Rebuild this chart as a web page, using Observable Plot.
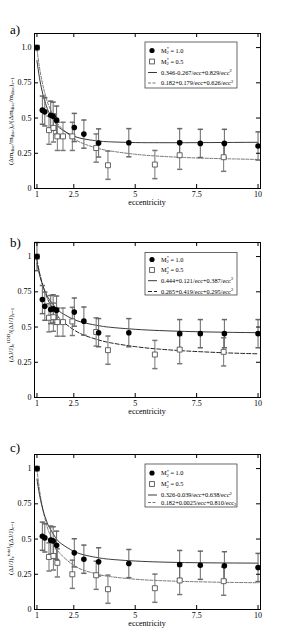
<!DOCTYPE html>
<html><head><meta charset="utf-8">
<script src="https://cdn.jsdelivr.net/npm/d3@7"></script>
<script src="https://cdn.jsdelivr.net/npm/@observablehq/plot@0.6"></script>
<style>body{margin:0;background:#fff;width:288px;overflow:hidden} #c svg{display:block}</style>
</head><body><div id="c"></div>
<script>
// ---- shared ----
const ticksX = [1, 2.5, 5, 7.5, 10];
const ticksY = [0, 0.25, 0.5, 0.75, 1];
const eccM1 = [1, 1.22, 1.32, 1.56, 1.66, 1.8, 2.52, 2.91, 3.51, 4.74, 6.81, 7.65, 8.63, 10];
const eccM05 = [1, 1.49, 1.67, 1.83, 2.06, 2.44, 3.41, 3.89, 5.8, 6.81, 8.6];
const eccM05c = [1, 1.49, 1.67, 1.83, 2.44, 3.41, 3.89, 5.8, 6.81, 8.6];
const fitEcc = [1, 1.1, 1.2, 1.3, 1.4, 1.5, 1.75, 2, 2.5, 3, 3.5, 4, 5, 6, 7, 8, 9, 10];

// ---- panel a ----
const aM1 = [1.0, 0.556, 0.544, 0.52, 0.513, 0.485, 0.433, 0.386, 0.323, 0.325, 0.325, 0.32, 0.32, 0.302];
const aM1err = [0, 0.1, 0.1, 0.1, 0.1, 0.1, 0.1, 0.1, 0.1, 0.1, 0.1, 0.1, 0.1, 0.1];
const aM05 = [1.0, 0.414, 0.43, 0.37, 0.37, 0.37, 0.287, 0.165, 0.17, 0.236, 0.222];
const aM05err = [0, 0.1, 0.1, 0.1, 0.1, 0.1, 0.1, 0.1, 0.1, 0.1, 0.1];
const aFitM1 = [0.908, 0.788, 0.699, 0.631, 0.578, 0.536, 0.464, 0.420, 0.372, 0.349, 0.337, 0.331, 0.326, 0.325, 0.325, 0.326, 0.327, 0.328];
const aFitM05 = [0.987, 0.862, 0.766, 0.690, 0.629, 0.580, 0.489, 0.428, 0.354, 0.311, 0.284, 0.266, 0.243, 0.229, 0.220, 0.214, 0.210, 0.206];
const aLegend = ["0.346-0.267/ecc+0.829/ecc", "0.182+0.179/ecc+0.626/ecc"];

// ---- panel b ----
const bM1 = [1.0, 0.695, 0.648, 0.624, 0.629, 0.62, 0.606, 0.542, 0.46, 0.46, 0.453, 0.453, 0.453, 0.453];
const bM1err = [0.1, 0.1, 0.1, 0.1, 0.1, 0.1, 0.1, 0.1, 0.1, 0.1, 0.1, 0.1, 0.1, 0.1];
const bM05 = [1.0, 0.566, 0.57, 0.535, 0.535, 0.54, 0.465, 0.336, 0.305, 0.34, 0.324];
const bM05err = [0, 0.1, 0.1, 0.1, 0.1, 0.1, 0.1, 0.1, 0.1, 0.1, 0.1];
const bFitM1 = [0.952, 0.874, 0.814, 0.766, 0.728, 0.697, 0.640, 0.601, 0.554, 0.527, 0.510, 0.498, 0.484, 0.475, 0.469, 0.465, 0.462, 0.460];
const bFitM05 = [0.979, 0.890, 0.819, 0.762, 0.715, 0.675, 0.601, 0.548, 0.480, 0.437, 0.409, 0.388, 0.361, 0.343, 0.331, 0.322, 0.315, 0.310];
const bLegend = ["0.444+0.121/ecc+0.387/ecc", "0.265+0.419/ecc+0.295/ecc"];

// ---- panel c ----
const cM1 = [1.0, 0.52, 0.508, 0.492, 0.487, 0.456, 0.402, 0.357, 0.338, 0.326, 0.319, 0.314, 0.31, 0.298];
const cM1err = [0, 0.1, 0.1, 0.1, 0.1, 0.1, 0.1, 0.1, 0.1, 0.1, 0.1, 0.1, 0.1, 0.1];
const cM05 = [1.0, 0.373, 0.38, 0.331, 0.25, 0.243, 0.144, 0.151, 0.206, 0.201];
const cM05err = [0, 0.1, 0.1, 0.1, 0.1, 0.1, 0.1, 0.1, 0.1, 0.1];
const cFitM1 = [0.925, 0.818, 0.737, 0.674, 0.624, 0.584, 0.512, 0.466, 0.413, 0.384, 0.367, 0.356, 0.344, 0.337, 0.333, 0.331, 0.330, 0.329];
const cFitM05 = [0.995, 0.854, 0.747, 0.663, 0.597, 0.544, 0.448, 0.386, 0.313, 0.273, 0.249, 0.233, 0.215, 0.205, 0.199, 0.195, 0.192, 0.190];
const cLegend = ["0.326-0.039/ecc+0.638/ecc", "0.182+0.0025/ecc+0.810/ecc"];

const zip = (xs, ys, es) => xs.map((x, i) => ({x, y: ys[i], e: es ? es[i] : 0}));
const capSymbol = {draw(ctx, size) { const w = Math.sqrt(size / Math.PI); ctx.moveTo(-w, 0); ctx.lineTo(w, 0); }};

const W = 288, ML = 34, MR = 28, INNER_H = 155;
const FONT = "Liberation Serif, Times New Roman, serif";

function panel(cfg) {
  const m1 = zip(eccM1, cfg.m1, cfg.m1err);
  const m05 = zip(cfg.x05, cfg.m05, cfg.m05err);
  const f1 = zip(fitEcc, cfg.fit1);
  const f05 = zip(fitEcc, cfg.fit05);
  const H = cfg.mt + INNER_H + cfg.mb;
  const innerW = W - ML - MR;
  const bars = (d) => d.filter(p => p.e > 0);
  const svg = Plot.plot({
    width: W, height: H,
    marginLeft: ML, marginRight: MR, marginTop: cfg.mt, marginBottom: cfg.mb,
    style: {fontFamily: FONT, fontSize: "8px", color: "#000", background: "#fff"},
    x: {domain: [0.9, 10.1]},
    y: {domain: [0, 1.1]},
    marks: [
      Plot.line(f05, {x: "x", y: "y", curve: "natural", stroke: cfg.dashColor, strokeWidth: 1, strokeDasharray: cfg.dash}),
      Plot.line(f1, {x: "x", y: "y", curve: "natural", stroke: "#222", strokeWidth: 0.9}),
      Plot.ruleX(bars(m05), {x: "x", y1: d => d.y - d.e, y2: d => Math.min(1.1, d.y + d.e), stroke: "#777", strokeWidth: 1}),
      Plot.dot(bars(m05), {x: "x", y: d => d.y - d.e, symbol: capSymbol, r: 2.6, stroke: "#777", fill: "none"}),
      Plot.dot(bars(m05), {x: "x", y: d => d.y + d.e, symbol: capSymbol, r: 2.6, stroke: "#777", fill: "none"}),
      Plot.ruleX(bars(m1), {x: "x", y1: d => d.y - d.e, y2: d => Math.min(1.1, d.y + d.e), stroke: "#666", strokeWidth: 1}),
      Plot.dot(bars(m1), {x: "x", y: d => d.y - d.e, symbol: capSymbol, r: 2.6, stroke: "#666", fill: "none"}),
      Plot.dot(bars(m1), {x: "x", y: d => d.y + d.e, symbol: capSymbol, r: 2.6, stroke: "#666", fill: "none"}),
      Plot.dot(m05, {x: "x", y: "y", symbol: "square", r: 2.8, stroke: "#555", strokeWidth: 0.9, fill: "#fff"}),
      Plot.dot(m1, {x: "x", y: "y", r: 2.8, fill: "#000", stroke: "none"}),
      Plot.frame({stroke: "#000", strokeWidth: 1}),
      Plot.tickX(ticksX, {insetTop: INNER_H - 4, stroke: "#000"}),
      Plot.tickX(ticksX, {insetBottom: INNER_H - 4, stroke: "#000"}),
      Plot.tickY(ticksY, {insetRight: innerW - 4, stroke: "#000"}),
      Plot.tickY(ticksY, {insetLeft: innerW - 4, stroke: "#000"}),
      Plot.axisX({ticks: ticksX, tickFormat: d => String(d), tickSize: 0, tickPadding: 3, label: null, fontSize: 8}),
      Plot.axisY({ticks: ticksY, tickFormat: d => d === 1 ? cfg.oneLabel : String(d), tickSize: 0, tickPadding: 3, label: null, fontSize: 8})
    ]
  });
  const s = d3.select(svg);
  // x-axis title
  s.append("text").attr("x", ML + innerW / 2).attr("y", cfg.mt + INNER_H + 17)
    .attr("text-anchor", "middle").attr("font-family", FONT).attr("font-size", 8).attr("fill", "#000").text("eccentricity");
  // panel letter
  s.append("text").attr("x", 10).attr("y", cfg.letterY).attr("text-anchor", "start").attr("font-family", FONT).attr("font-size", 13).attr("fill", "#000").text(cfg.letter);
  // y-axis title
  const yt = s.append("text").attr("transform", `translate(13,${cfg.ylabelY}) rotate(-90)`)
    .attr("text-anchor", "middle").attr("font-family", FONT).attr("font-size", 7).attr("fill", "#000");
  cfg.ylabel.forEach(([t, kind]) => {
    const ts = yt.append("tspan").text(t);
    if (kind === "sub") ts.attr("font-size", 5).attr("baseline-shift", "-25%");
    if (kind === "sup") ts.attr("font-size", 5).attr("baseline-shift", "55%");
  });
  // legend
  const L = cfg.legend;
  const g = s.append("g").attr("font-family", FONT).attr("fill", "#000").attr("text-anchor", "start");
  g.append("rect").attr("x", 145).attr("y", L.box[0]).attr("width", 92).attr("height", L.box[1] - L.box[0])
    .attr("fill", "#fff").attr("stroke", "#444").attr("stroke-width", 0.8);
  g.append("circle").attr("cx", 152).attr("cy", L.rows[0]).attr("r", 2.6).attr("fill", "#000");
  g.append("rect").attr("x", 149.6).attr("y", L.rows[1] - 2.4).attr("width", 4.8).attr("height", 4.8).attr("fill", "#fff").attr("stroke", "#555").attr("stroke-width", 0.9);
  g.append("line").attr("x1", 148).attr("x2", 157).attr("y1", L.rows[2]).attr("y2", L.rows[2]).attr("stroke", "#222").attr("stroke-width", 0.9);
  g.append("line").attr("x1", 148).attr("x2", 157).attr("y1", L.rows[3]).attr("y2", L.rows[3]).attr("stroke", cfg.dashColor).attr("stroke-width", 1).attr("stroke-dasharray", cfg.dash);
  const mLabel = (y, val) => {
    const t = g.append("text").attr("x", 161).attr("y", y + 2.2).attr("font-size", 6.3);
    t.append("tspan").text("M");
    t.append("tspan").attr("font-size", 4.5).attr("dy", 1.5).text("2");
    t.append("tspan").attr("font-size", 4.5).attr("dy", -4).attr("dx", -2.2).text("*");
    t.append("tspan").attr("dy", 2.5).text(" = " + val);
  };
  mLabel(L.rows[0], "1.0");
  mLabel(L.rows[1], "0.5");
  const fLabel = (y, txt, pow) => {
    const t = g.append("text").attr("x", 161).attr("y", y + 2.2).attr("font-size", 6.3);
    t.append("tspan").text(txt);
    t.append("tspan").attr("font-size", 4.5).attr("dy", pow === "sub" ? 1.5 : -2.6).text("2");
  };
  fLabel(L.rows[2], cfg.legendTexts[0], "sup");
  fLabel(L.rows[3], cfg.legendTexts[1], cfg.lastPow || "sup");
  return svg;
}

const disc = [["(Δm", ""], ["disc", "sub"], ["/m", ""], ["disc", "sub"], [")", ""], ["e", "sub"], ["/(Δm", ""], ["disc", "sub"], ["/m", ""], ["disc", "sub"], [")", ""], ["e=1", "sub"]];
const ylabB = [["(ΔJ/J)", ""], ["e", "sub"], ["1DD", "sup"], ["/(ΔJ/J)", ""], ["e=1", "sub"]];
const ylabC = [["(ΔJ/J)", ""], ["e", "sub"], ["total", "sup"], ["/(ΔJ/J)", ""], ["e=1", "sub"]];

const root = document.getElementById("c");
root.appendChild(panel({
  letter: "a)", letterY: 34, mt: 33, mb: 25, ylabelY: 121, ylabel: disc, oneLabel: "1.0",
  m1: aM1, m1err: aM1err, x05: eccM05, m05: aM05, m05err: aM05err, fit1: aFitM1, fit05: aFitM05,
  dash: "3,1.5", dashColor: "#777", legendTexts: aLegend,
  legend: {box: [42, 88], rows: [50.5, 61.5, 72.5, 83]}
}));
root.appendChild(panel({
  letter: "b)", letterY: 34, mt: 29, mb: 25, ylabelY: 122, ylabel: ylabB, oneLabel: "1",
  m1: bM1, m1err: bM1err, x05: eccM05, m05: bM05, m05err: bM05err, fit1: bFitM1, fit05: bFitM05,
  dash: "4,2", dashColor: "#222", legendTexts: bLegend,
  legend: {box: [39.5, 82], rows: [46.5, 57, 67.7, 78.5]}
}));
root.appendChild(panel({
  letter: "c)", letterY: 30, mt: 32, mb: 25, ylabelY: 126, ylabel: ylabC, oneLabel: "1",
  m1: cM1, m1err: cM1err, x05: eccM05c, m05: cM05, m05err: cM05err, fit1: cFitM1, fit05: cFitM05,
  dash: "3,1.5", dashColor: "#777", legendTexts: cLegend, lastPow: "sub",
  legend: {box: [42, 85], rows: [51, 62, 73, 80.5]}
}));
</script>
</body></html>
